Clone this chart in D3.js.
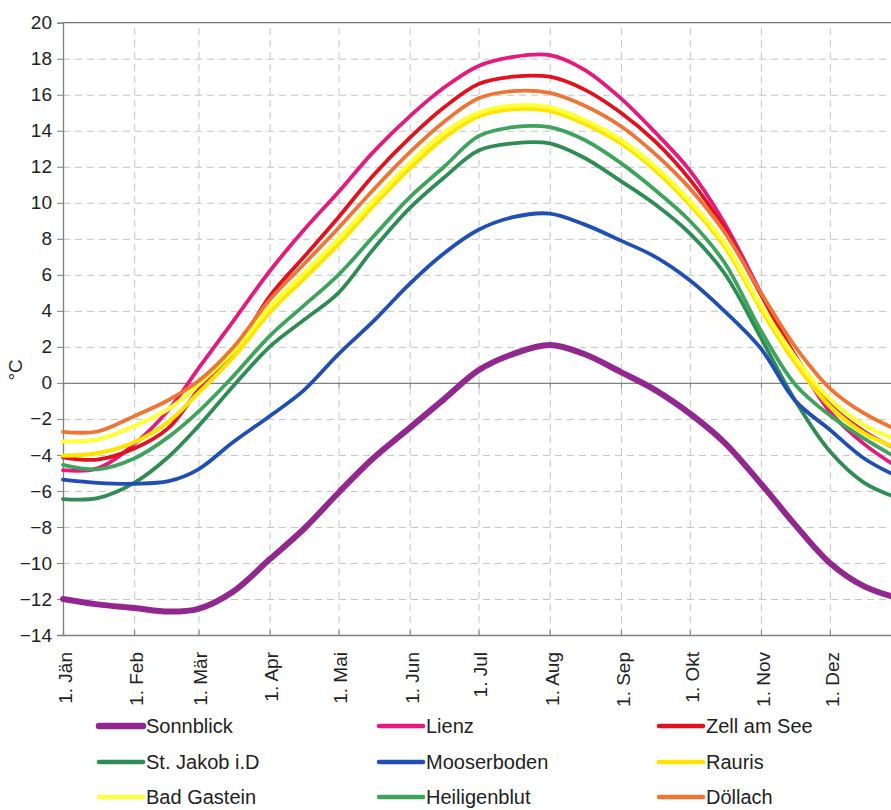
<!DOCTYPE html>
<html>
<head>
<meta charset="utf-8">
<script src="https://cdn.jsdelivr.net/npm/d3@7"></script>
<style>
  html, body { margin: 0; padding: 0; background: #fff; }
  svg { display: block; font-family: "Liberation Sans", Arial, sans-serif; }
</style>
</head>
<body>
<svg id="chart" width="891" height="810"></svg>
<script>
// ---- data ----
const days = [0, 15, 31, 46, 59, 74, 90, 105, 120, 135, 151, 166, 181, 196, 212, 227, 243, 258, 273, 288, 304, 319, 334, 349, 365];

const sonnblick   = [-12.0, -12.3, -12.5, -12.7, -12.55, -11.6, -9.8, -8.1, -6.1, -4.2, -2.5, -0.9, 0.7, 1.6, 2.1, 1.6, 0.6, -0.4, -1.7, -3.3, -5.6, -7.9, -10.0, -11.3, -12.0];
const lienz       = [-4.85, -4.75, -3.4, -1.5, 0.8, 3.4, 6.2, 8.5, 10.6, 12.8, 14.8, 16.4, 17.6, 18.1, 18.2, 17.4, 15.8, 13.9, 11.8, 8.9, 5.0, 1.4, -1.6, -3.4, -4.8];
const zellAmSee   = [-4.13, -4.26, -3.65, -2.5, -0.4, 1.6, 4.8, 7.0, 9.2, 11.5, 13.6, 15.3, 16.6, 17.0, 17.0, 16.3, 15.0, 13.4, 11.3, 8.6, 4.9, 1.5, -1.2, -2.7, -3.8];
const stJakob     = [-6.45, -6.4, -5.55, -4.1, -2.4, -0.2, 2.0, 3.5, 5.0, 7.4, 9.7, 11.4, 12.9, 13.3, 13.3, 12.5, 11.2, 9.9, 8.3, 6.1, 2.5, -1.0, -3.8, -5.55, -6.45];
const mooserboden = [-5.37, -5.55, -5.6, -5.46, -4.8, -3.3, -1.85, -0.4, 1.6, 3.4, 5.5, 7.2, 8.5, 9.2, 9.4, 8.8, 7.9, 7.0, 5.7, 4.0, 1.9, -1.0, -2.6, -4.2, -5.3];
const rauris      = [-4.04, -3.9, -3.3, -2.15, -0.55, 1.4, 3.9, 5.8, 7.7, 9.8, 11.9, 13.6, 14.8, 15.2, 15.1, 14.4, 13.3, 11.8, 9.9, 7.6, 4.1, 1.1, -1.3, -2.8, -3.7];
const badGastein  = [-3.25, -3.15, -2.4, -1.45, -0.1, 1.75, 4.2, 6.1, 8.0, 10.1, 12.2, 13.9, 15.0, 15.4, 15.3, 14.6, 13.5, 12.0, 10.1, 7.8, 4.3, 1.4, -0.9, -2.35, -3.25];
const heiligenblut= [-4.55, -4.8, -4.2, -3.0, -1.6, 0.35, 2.6, 4.3, 6.0, 8.1, 10.3, 12.0, 13.7, 14.2, 14.2, 13.5, 12.2, 10.7, 9.0, 6.7, 2.9, -0.1, -1.8, -3.1, -4.3];
const doellach    = [-2.72, -2.7, -1.85, -0.95, 0.1, 1.95, 4.6, 6.6, 8.6, 10.7, 12.8, 14.5, 15.8, 16.2, 16.1, 15.4, 14.25, 12.7, 10.8, 8.4, 5.0, 2.0, -0.3, -1.7, -2.7];

const seriesNames  = ["Sonnblick", "Lienz", "Zell am See", "St. Jakob i.D", "Mooserboden", "Rauris", "Bad Gastein", "Heiligenblut", "Döllach"];
const seriesValues = [sonnblick, lienz, zellAmSee, stJakob, mooserboden, rauris, badGastein, heiligenblut, doellach];
const seriesColors = ["#92278f", "#e6197d", "#e3101e", "#2f8c55", "#1f4fb4", "#ffe400", "#ffff3c", "#3ea45c", "#f07535"];

const monthDays   = [0, 31, 59, 90, 120, 151, 181, 212, 243, 273, 304, 334];
const monthLabels = ["1. Jän", "1. Feb", "1. Mär", "1. Apr", "1. Mai", "1. Jun", "1. Jul", "1. Aug", "1. Sep", "1. Okt", "1. Nov", "1. Dez"];
const yTicks = [-14, -12, -10, -8, -6, -4, -2, 0, 2, 4, 6, 8, 10, 12, 14, 16, 18, 20];
const yLabel = "°C";

// ---- layout ----
const svg = d3.select("#chart");
const plotL = 63, plotR = 901, plotT = 22.7, plotB = 635;
const x = d3.scaleLinear().domain([0, 365]).range([plotL, plotR]);
const y = d3.scaleLinear().domain([-14, 20]).range([plotB, plotT]);

svg.append("rect").attr("width", 891).attr("height", 810).attr("fill", "#fff");

// gridlines
const gridColor = "#c4c4c4";
svg.append("g")
  .attr("transform", `translate(${plotL},0)`)
  .call(d3.axisLeft(y).tickValues(yTicks.filter(v => v !== 0 && v !== 20 && v !== -14)).tickSize(-(plotR - plotL)).tickFormat(""))
  .call(g => g.select(".domain").remove())
  .call(g => g.selectAll("line").attr("stroke", gridColor).attr("stroke-dasharray", "7,5").attr("stroke-width", 1));

svg.append("g")
  .attr("transform", `translate(0,${plotB})`)
  .call(d3.axisBottom(x).tickValues(monthDays.slice(1)).tickSize(-(plotB - plotT)).tickFormat(""))
  .call(g => g.select(".domain").remove())
  .call(g => g.selectAll("line").attr("stroke", gridColor).attr("stroke-dasharray", "7,5").attr("stroke-width", 1));

// top frame line
svg.append("line").attr("x1", plotL).attr("x2", plotR).attr("y1", plotT).attr("y2", plotT)
  .attr("stroke", "#707070").attr("stroke-width", 1.3);

// bottom axis with labels
const xAxisBottom = svg.append("g")
  .attr("transform", `translate(0,${plotB})`)
  .call(d3.axisBottom(x).tickValues(monthDays).tickSize(-5).tickFormat(""));
xAxisBottom.select(".domain").attr("stroke", "#808080").attr("stroke-width", 1.3);
xAxisBottom.selectAll("line").attr("stroke", "#808080");

svg.append("g").selectAll("text")
  .data(monthDays)
  .join("text")
  .attr("transform", d => `translate(${x(d) + 2},652) rotate(-90)`)
  .attr("text-anchor", "end")
  .attr("dy", "0.36em")
  .attr("font-size", 19)
  .attr("fill", "#222")
  .text((d, i) => monthLabels[i]);

// zero axis
const zeroAxis = svg.append("g")
  .attr("transform", `translate(0,${y(0)})`)
  .call(d3.axisBottom(x).tickValues(monthDays).tickSize(5).tickFormat(""));
zeroAxis.select(".domain").attr("stroke", "#808080").attr("stroke-width", 1.3);
zeroAxis.selectAll("line").attr("stroke", "#808080");

// y axis
const yAxis = svg.append("g")
  .attr("transform", `translate(${plotL},0)`)
  .call(d3.axisLeft(y).tickValues(yTicks).tickSize(6).tickPadding(5).tickFormat(d3.format("d")));
yAxis.select(".domain").attr("stroke", "#808080").attr("stroke-width", 1.3);
yAxis.selectAll("line").attr("stroke", "#808080");
yAxis.selectAll("text").attr("font-size", 19).attr("fill", "#222")
  .attr("font-family", "'Liberation Sans', Arial, sans-serif");

svg.append("text")
  .attr("transform", `translate(15,${y(0) - 13}) rotate(-90)`)
  .attr("text-anchor", "middle")
  .attr("dy", "0.36em")
  .attr("font-size", 19)
  .attr("fill", "#222")
  .text(yLabel);

// lines
const line = d3.line()
  .x((d, i) => x(days[i]))
  .y(d => y(d))
  .curve(d3.curveCatmullRom.alpha(0.5));

svg.append("g").selectAll("path")
  .data(seriesValues)
  .join("path")
  .attr("d", d => line(d))
  .attr("fill", "none")
  .attr("stroke", (d, i) => seriesColors[i])
  .attr("stroke-width", (d, i) => i === 0 ? 6 : (i === 5 || i === 6 ? 4.2 : 3.8))
  .attr("stroke-linejoin", "round")
  .attr("stroke-linecap", "round");

// legend
const colX = [97, 377, 657];
const rowY = [726, 762, 797];
const legend = svg.append("g").selectAll("g")
  .data(seriesNames)
  .join("g")
  .attr("transform", (d, i) => `translate(${colX[i % 3]},${rowY[Math.floor(i / 3)]})`);
legend.append("line")
  .attr("x1", 2).attr("x2", 46).attr("y1", 0).attr("y2", 0)
  .attr("stroke", (d, i) => seriesColors[i])
  .attr("stroke-width", (d, i) => i === 0 ? 6.5 : 4.5)
  .attr("stroke-linecap", "round");
legend.append("text")
  .attr("x", 49).attr("y", 0).attr("dy", "0.36em")
  .attr("font-size", 20)
  .attr("fill", "#222")
  .text(d => d);
</script>
</body>
</html>
